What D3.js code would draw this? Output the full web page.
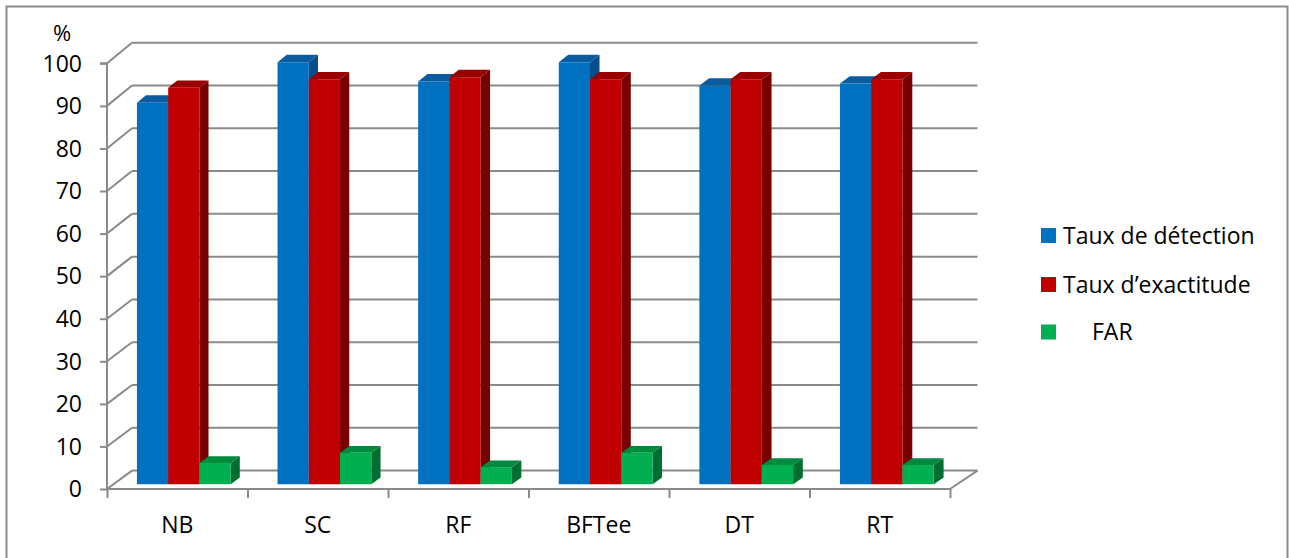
<!DOCTYPE html>
<html><head><meta charset="utf-8">
<script src="https://cdn.jsdelivr.net/npm/d3@7"></script>
<style>
html,body{margin:0;padding:0;background:#fff;}
svg{display:block;}
text{font-family:"Open Sans","Liberation Sans",sans-serif;fill:#000;}
</style></head>
<body>
<svg id="chart" width="1289" height="558"></svg>
<script>
const categories = ["NB","SC","RF","BFTee","DT","RT"];
const seriesNames = ["Taux de détection","Taux d\u2019exactitude","FAR"];
const detection = [89.5, 99, 94.5, 99, 93.5, 94];
const exactitude = [93, 95, 95.5, 95, 95, 95];
const far = [5, 7.4, 4, 7.4, 4.5, 4.5];
const yTicks = [0,10,20,30,40,50,60,70,80,90,100];

const series = [detection, exactitude, far];
const colors = [
  {front:"#0070C0", top:"#0B5C9E", side:"#064F8A"},
  {front:"#C00000", top:"#9A0000", side:"#780000"},
  {front:"#00B050", top:"#008A3E", side:"#006E31"}
];

const svg = d3.select("#chart");
svg.append("rect").attr("x",6.5).attr("y",6.5).attr("width",1281).attr("height",560)
  .attr("fill","none").attr("stroke","#8c8c8c").attr("stroke-width",2);

const xFront = d3.scaleLinear().domain([0,categories.length]).range([107,950]);
const xBack  = d3.scaleLinear().domain([0,categories.length]).range([132,977.5]);
const yFront = d3.scaleLinear().domain([0,100]).range([489,63.3]);
const yBack  = d3.scaleLinear().domain([0,100]).range([470.6,42.7]);
const px = (c,f) => xFront(c)*(1-f) + xBack(c)*f;
const py = (v,f) => yFront(v)*(1-f) + yBack(v)*f;

const grid = "#8a8a8a";
const g = svg.append("g");
yTicks.forEach(t=>{
  g.append("line").attr("x1",xBack(0)).attr("x2",xBack(categories.length))
    .attr("y1",yBack(t)).attr("y2",yBack(t)).attr("stroke",grid).attr("stroke-width",2);
  g.append("line").attr("x1",xFront(0)).attr("y1",yFront(t))
    .attr("x2",xBack(0)).attr("y2",yBack(t)).attr("stroke",grid).attr("stroke-width",2);
});
g.append("line").attr("x1",xFront(0)).attr("x2",xFront(categories.length))
  .attr("y1",yFront(0)).attr("y2",yFront(0)).attr("stroke",grid).attr("stroke-width",2);
g.append("line").attr("x1",xFront(categories.length)).attr("y1",yFront(0))
  .attr("x2",xBack(categories.length)).attr("y2",yBack(0)).attr("stroke",grid).attr("stroke-width",2);

const yAxis = d3.axisLeft(yFront).tickValues(yTicks).tickSize(7).tickPadding(18);
const ya = svg.append("g").attr("transform",`translate(${xFront(0)},0)`).call(yAxis);
ya.select(".domain").attr("stroke",grid).attr("stroke-width",2).attr("d",`M-7,${yFront(100)}H0V${yFront(0)}`);
ya.selectAll(".tick line").attr("stroke",grid).attr("stroke-width",2);
ya.selectAll(".tick text").attr("font-size",23).attr("font-family","Open Sans").attr("fill","#000").attr("dy","0.34em");

const xAxis = d3.axisBottom(xFront).tickValues(d3.range(categories.length+1)).tickSize(9).tickFormat("");
const xa = svg.append("g").attr("transform",`translate(0,${yFront(0)})`).call(xAxis);
xa.select(".domain").remove();
xa.selectAll(".tick line").attr("stroke",grid).attr("stroke-width",2);
categories.forEach((c,i)=>{
  svg.append("text").attr("x",xFront(i+0.5)).attr("y",533).attr("text-anchor","middle")
    .attr("font-size",23).text(c);
});

svg.append("text").attr("x",62).attr("y",41).attr("text-anchor","middle").attr("font-size",22).text("%");

const gapHalf = 0.75/4.5;
const bw = 1/4.5;
const f0 = 0.26, f1 = 0.62;
const bars = svg.append("g");
categories.forEach((c,i)=>{
  series.forEach((s,k)=>{
    const v = s[i];
    const c0 = i + gapHalf + k*bw, c1 = c0 + bw;
    const col = colors[k];
    const P = (cc,vv,ff)=>[px(cc,ff),py(vv,ff)];
    bars.append("polygon").attr("points",[P(c1,0,f0),P(c1,0,f1),P(c1,v,f1),P(c1,v,f0)].map(p=>p.join(",")).join(" "))
      .attr("fill",col.side);
    bars.append("polygon").attr("points",[P(c0,v,f0),P(c1,v,f0),P(c1,v,f1),P(c0,v,f1)].map(p=>p.join(",")).join(" "))
      .attr("fill",col.top);
    bars.append("polygon").attr("points",[P(c0,0,f0),P(c1,0,f0),P(c1,v,f0),P(c0,v,f0)].map(p=>p.join(",")).join(" "))
      .attr("fill",col.front);
  });
});

const leg = svg.append("g");
const legY = [235.5, 284.5, 332];
seriesNames.forEach((n,k)=>{
  leg.append("rect").attr("x",1041).attr("y",legY[k]-7.5).attr("width",15).attr("height",15).attr("fill",colors[k].front);
  leg.append("text").attr("x",k===2?1092:1063).attr("y",legY[k]+8).attr("font-size",23).text(n);
});
</script>
</body></html>
